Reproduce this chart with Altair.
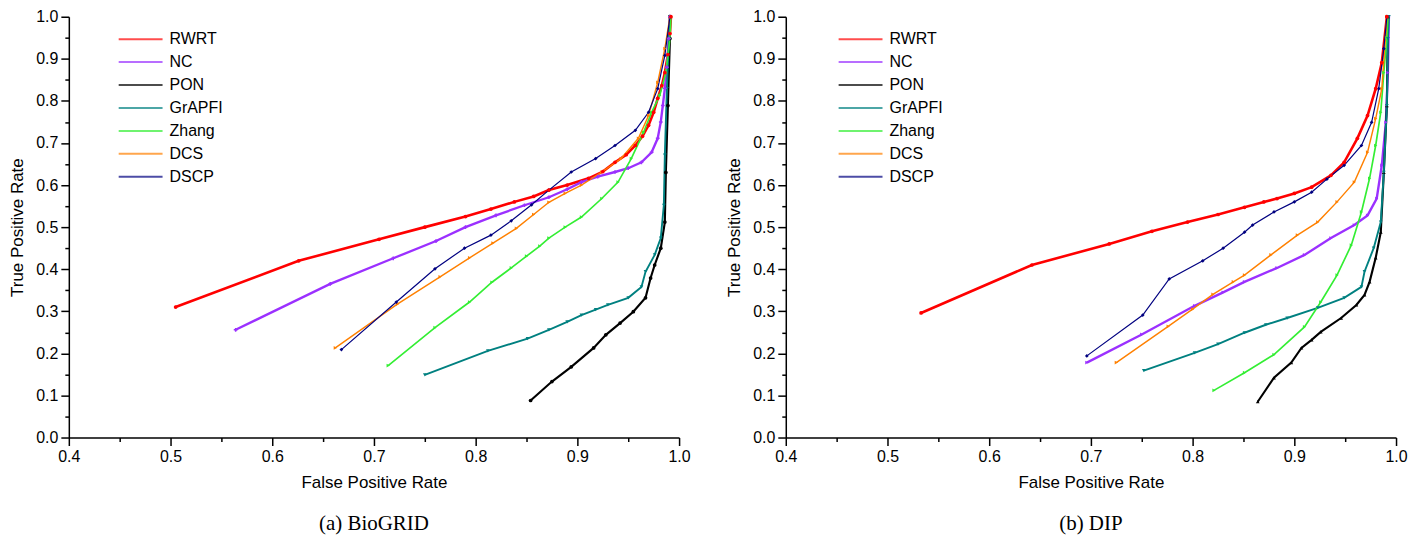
import altair as alt
import pandas as pd

methods = ["RWRT", "NC", "PON", "GrAPFI", "Zhang", "DCS", "DSCP"]
colors = ["#ff0000", "#9b30ff", "#000000", "#008080", "#33ee33", "#ff8000", "#000080"]
widths = [2.6, 1.2, 1.0, 1.2, 1.2, 1.2, 1.2]

# ---- Panel (a) BioGRID ----
a_rwrt_fpr = [0.505, 0.626, 0.705, 0.750, 0.790, 0.815, 0.838, 0.857, 0.872, 0.890, 0.911, 0.925, 0.937, 0.948, 0.957, 0.964, 0.970, 0.975, 0.979, 0.983, 0.986, 0.989, 0.991, 0.992]
a_rwrt_tpr = [0.310, 0.420, 0.471, 0.500, 0.525, 0.543, 0.560, 0.573, 0.588, 0.600, 0.616, 0.632, 0.654, 0.672, 0.694, 0.716, 0.742, 0.773, 0.806, 0.836, 0.867, 0.910, 0.960, 1.000]
a_nc_fpr = [0.564, 0.657, 0.719, 0.761, 0.790, 0.820, 0.848, 0.872, 0.890, 0.904, 0.920, 0.937, 0.950, 0.963, 0.973, 0.979, 0.982, 0.984, 0.986, 0.988, 0.990, 0.991]
a_nc_tpr = [0.256, 0.365, 0.426, 0.467, 0.500, 0.528, 0.552, 0.571, 0.590, 0.607, 0.620, 0.631, 0.640, 0.654, 0.678, 0.711, 0.750, 0.789, 0.830, 0.880, 0.948, 1.000]
a_pon_fpr = [0.854, 0.875, 0.894, 0.916, 0.928, 0.942, 0.955, 0.967, 0.972, 0.976, 0.982, 0.986, 0.987, 0.989, 0.991, 0.991]
a_pon_tpr = [0.088, 0.133, 0.168, 0.213, 0.244, 0.272, 0.299, 0.332, 0.379, 0.410, 0.450, 0.512, 0.630, 0.789, 0.948, 1.000]
a_grapfi_fpr = [0.750, 0.812, 0.851, 0.872, 0.890, 0.904, 0.918, 0.930, 0.950, 0.963, 0.967, 0.976, 0.982, 0.985, 0.986, 0.988, 0.990, 0.991]
a_grapfi_tpr = [0.149, 0.206, 0.235, 0.256, 0.275, 0.291, 0.304, 0.315, 0.332, 0.358, 0.394, 0.434, 0.474, 0.552, 0.671, 0.829, 0.948, 1.000]
a_zhang_fpr = [0.714, 0.760, 0.794, 0.816, 0.835, 0.850, 0.863, 0.872, 0.888, 0.904, 0.924, 0.940, 0.953, 0.965, 0.973, 0.981, 0.987, 0.991, 0.992]
a_zhang_tpr = [0.171, 0.261, 0.322, 0.369, 0.403, 0.431, 0.455, 0.474, 0.500, 0.524, 0.568, 0.607, 0.663, 0.725, 0.773, 0.813, 0.867, 0.948, 1.000]
a_dcs_fpr = [0.662, 0.723, 0.765, 0.794, 0.817, 0.840, 0.857, 0.872, 0.888, 0.904, 0.924, 0.943, 0.960, 0.970, 0.979, 0.986, 0.991]
a_dcs_tpr = [0.213, 0.317, 0.382, 0.427, 0.462, 0.497, 0.530, 0.559, 0.580, 0.600, 0.631, 0.663, 0.711, 0.765, 0.844, 0.924, 1.000]
a_dscp_fpr = [0.668, 0.722, 0.760, 0.789, 0.815, 0.835, 0.855, 0.872, 0.894, 0.918, 0.937, 0.957, 0.970, 0.979, 0.986, 0.991]
a_dscp_tpr = [0.209, 0.322, 0.401, 0.450, 0.481, 0.515, 0.553, 0.588, 0.631, 0.663, 0.694, 0.730, 0.773, 0.829, 0.908, 1.000]

# ---- Panel (b) DIP ----
b_rwrt_fpr = [0.533, 0.642, 0.718, 0.760, 0.795, 0.825, 0.851, 0.870, 0.883, 0.900, 0.917, 0.936, 0.949, 0.962, 0.972, 0.980, 0.986, 0.991]
b_rwrt_tpr = [0.296, 0.410, 0.460, 0.490, 0.512, 0.530, 0.547, 0.560, 0.568, 0.580, 0.595, 0.623, 0.654, 0.711, 0.765, 0.829, 0.891, 1.000]
b_nc_fpr = [0.696, 0.750, 0.802, 0.830, 0.851, 0.883, 0.910, 0.936, 0.959, 0.972, 0.981, 0.986, 0.990, 0.992, 0.993]
b_nc_tpr = [0.178, 0.245, 0.313, 0.345, 0.370, 0.403, 0.434, 0.474, 0.505, 0.528, 0.568, 0.647, 0.749, 0.867, 1.000]
b_pon_fpr = [0.864, 0.880, 0.897, 0.907, 0.917, 0.926, 0.946, 0.961, 0.969, 0.974, 0.980, 0.985, 0.988, 0.991, 0.992]
b_pon_tpr = [0.085, 0.142, 0.178, 0.213, 0.232, 0.251, 0.284, 0.315, 0.339, 0.370, 0.427, 0.488, 0.630, 0.789, 1.000]
b_grapfi_fpr = [0.752, 0.802, 0.825, 0.851, 0.872, 0.893, 0.923, 0.949, 0.966, 0.969, 0.978, 0.985, 0.988, 0.991, 0.992, 0.993]
b_grapfi_tpr = [0.159, 0.201, 0.222, 0.249, 0.268, 0.284, 0.308, 0.332, 0.358, 0.394, 0.450, 0.512, 0.630, 0.789, 0.948, 1.000]
b_zhang_fpr = [0.821, 0.851, 0.880, 0.910, 0.926, 0.942, 0.956, 0.966, 0.974, 0.980, 0.985, 0.988, 0.991, 0.992]
b_zhang_tpr = [0.112, 0.154, 0.197, 0.263, 0.322, 0.386, 0.457, 0.536, 0.616, 0.694, 0.773, 0.867, 0.950, 1.000]
b_dcs_fpr = [0.725, 0.776, 0.800, 0.820, 0.840, 0.851, 0.877, 0.903, 0.923, 0.942, 0.959, 0.972, 0.980, 0.986, 0.991]
b_dcs_tpr = [0.178, 0.264, 0.305, 0.340, 0.370, 0.386, 0.434, 0.481, 0.512, 0.560, 0.607, 0.678, 0.758, 0.829, 1.000]
b_dscp_fpr = [0.696, 0.751, 0.777, 0.810, 0.830, 0.851, 0.859, 0.880, 0.900, 0.917, 0.932, 0.949, 0.966, 0.976, 0.983, 0.988, 0.991]
b_dscp_tpr = [0.194, 0.291, 0.377, 0.420, 0.450, 0.488, 0.505, 0.536, 0.560, 0.583, 0.614, 0.647, 0.694, 0.749, 0.829, 0.924, 1.000]

x_ticks = [round(0.4 + 0.05 * k, 2) for k in range(13)]
y_ticks = [round(0.05 * k, 2) for k in range(21)]

panel_a = [(a_rwrt_fpr, a_rwrt_tpr), (a_nc_fpr, a_nc_tpr), (a_pon_fpr, a_pon_tpr),
           (a_grapfi_fpr, a_grapfi_tpr), (a_zhang_fpr, a_zhang_tpr),
           (a_dcs_fpr, a_dcs_tpr), (a_dscp_fpr, a_dscp_tpr)]
panel_b = [(b_rwrt_fpr, b_rwrt_tpr), (b_nc_fpr, b_nc_tpr), (b_pon_fpr, b_pon_tpr),
           (b_grapfi_fpr, b_grapfi_tpr), (b_zhang_fpr, b_zhang_tpr),
           (b_dcs_fpr, b_dcs_tpr), (b_dscp_fpr, b_dscp_tpr)]

shapes_a = ["circle", "cross", "circle", "triangle-down", "triangle-right", "triangle-right", "diamond"]
shapes_b = ["circle", "triangle-right", "triangle-up", "triangle-down", "triangle-right", "triangle-right", "diamond"]

MAJOR = "abs(datum.value*10 - round(datum.value*10)) < 0.001"
LABEL = MAJOR + " ? format(datum.value, '.1f') : ''"
FONT = "Liberation Sans"


def panel(data, shapes, legend_x, caption):
    rows = []
    for m, (f, t) in zip(methods, data):
        for i, (x, y) in enumerate(zip(f, t)):
            rows.append({"method": m, "fpr": x, "tpr": y, "i": i})
    df = pd.DataFrame(rows)

    x_axis = alt.Axis(values=x_ticks, labelExpr=LABEL, labelFlush=False,
                      tickSize={"condition": {"test": MAJOR, "value": 8}, "value": 4},
                      labelPadding=3, titlePadding=10, labelFontSize=16, titleFontSize=17)
    y_axis = alt.Axis(values=y_ticks, labelExpr=LABEL,
                      tickSize={"condition": {"test": MAJOR, "value": 8}, "value": 4},
                      labelPadding=3, titlePadding=9, labelFontSize=16, titleFontSize=17)

    base = alt.Chart(df).encode(
        x=alt.X("fpr:Q", scale=alt.Scale(domain=[0.4, 1.0], nice=False), axis=x_axis,
                title="False Positive Rate"),
        y=alt.Y("tpr:Q", scale=alt.Scale(domain=[0.0, 1.0], nice=False), axis=y_axis,
                title="True Positive Rate"),
        order=alt.Order("i:Q"),
    )
    color_scale = alt.Scale(domain=methods, range=colors)
    lines = base.mark_line().encode(
        color=alt.Color("method:N", scale=color_scale,
                        legend=alt.Legend(orient="none", legendX=legend_x, legendY=11,
                                          title=None, symbolType="stroke", symbolSize=1936,
                                          symbolStrokeWidth=2, clipHeight=23, rowPadding=0,
                                          labelFontSize=16, labelFont=FONT, labelOffset=6,
                                          labelColor="black", symbolOpacity=0.7)),
        strokeWidth=alt.StrokeWidth("method:N", scale=alt.Scale(domain=methods, range=widths),
                                    legend=None),
    )
    pts = base.mark_point(filled=True, size=14, opacity=1).encode(
        color=alt.Color("method:N", scale=color_scale, legend=None),
        shape=alt.Shape("method:N", scale=alt.Scale(domain=methods, range=shapes), legend=None),
    )
    return alt.layer(lines, pts).resolve_legend(color="independent", shape="independent").properties(
        width=612, height=422,
        title=alt.TitleParams(caption, orient="bottom", frame="group", font="Liberation Serif",
                              fontSize=21, fontWeight="normal", color="black", offset=23),
    )


chart = alt.hconcat(
    panel(panel_a, shapes_a, 49, "(a) BioGRID"),
    panel(panel_b, shapes_b, 52, "(b) DIP"),
    spacing=34,
).resolve_scale(color="independent", shape="independent", strokeWidth="independent").resolve_legend(
    color="independent"
).properties(
    padding={"left": 0, "top": 0, "right": 0, "bottom": 0}
).configure_axis(
    grid=False, domainColor="black", tickColor="black", labelColor="black", titleColor="black",
    domainWidth=1.5, tickWidth=1.5, labelFont=FONT, titleFont=FONT, titleFontWeight="normal",
).configure_view(strokeWidth=0)

chart.save("out.html", embed_options={"renderer": "svg", "actions": False})
